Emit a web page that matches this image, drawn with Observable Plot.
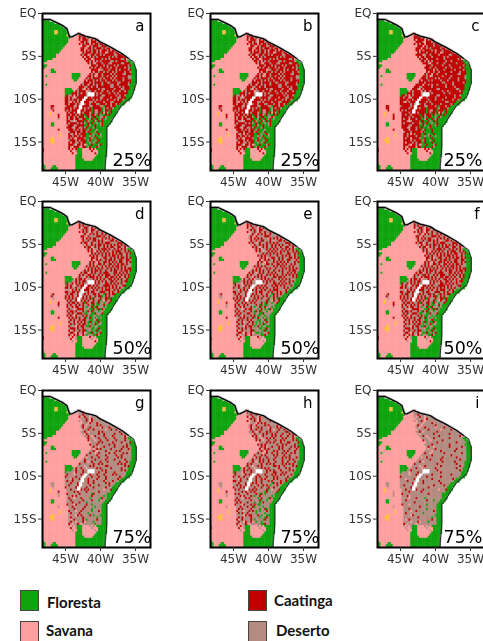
<!DOCTYPE html>
<html><head><meta charset="utf-8">
<script src="https://cdn.jsdelivr.net/npm/d3@7"></script>
<script src="https://cdn.jsdelivr.net/npm/@observablehq/plot@0.6"></script>
<style>
html,body{margin:0;padding:0;background:#fff;overflow:hidden;width:483px;height:641px}
#page{position:relative;width:483px;height:641px;overflow:hidden}
.panel{position:absolute}
.panel svg{display:block;overflow:visible;background:transparent;max-width:none!important}
.sw{position:absolute;width:17px;height:19px;border:1px solid #444}
.lb{position:absolute;font:bold 15px Lato,"Open Sans",sans-serif;color:#111;line-height:16px}
</style></head><body><div id="page"></div>
<script>
// Vegetation map, one row per 0.25 degree, north to south.
// Runs: F forest, S savanna, W white, Y yellow, "." outside (letter + count).
// Literal cells: digit = caatinga, a-j = forest, the character being the rank at
// which that cell has become desert; k savanna, m plain forest.
const rows = [
"","","",
"F4",
"F7",
"F10",
"F12",
"F14",
"F7 Y2 F5",
"F7 Y2 F6 .5 S2",
"F14 Y1 F1 .3 S2 738",
"F16 S5 629417",
"F15 S6 8k3952k716 4",
"F15 S6 k47280k963 15",
"F14 S7 7k5193k824 6037",
"F13 S9 k362k81749 02635",
"F12 S10 592k740318 6925147k",
"F11 S11 38k6192750 4k8361927 4",
"F10 S12 k714830962 5173k04862 93",
"F8 S14 6295k17403 8291657340 1786",
"F8 S15 4k83062719 5384716092 53847",
"F6 S18 7195k28364 0927158436 7219k",
"F3 S22 3806k41927 5836029174 6382mm",
"F1 S25 9271k53806 4912738560 2847 mm",
"F3 S24 k536184927 0638152794 3618 mm",
"F2 S25 8271940635 2815907364 182 mmm",
"S5 F2 S21 5937k20864 1739250684 917 mmm",
"S5 F3 S20 7k48193062 5827146930 582 mmm",
"S17 F5 S5 6182k74059 3716284950 1736 mmm",
"S2 F1 S14 F5 S4 3905k18627 4096281735 84920 mmm",
"S17 F4 S4 8261749305 1847260953 81642 1 mmm",
"S18 F2 S4 4k73915082 6319450728 3916475 mmm",
"S23 1846072953 7249016385 12749605 mmm",
"S2 F1 S19 6295k38170 4816593027 51946382 mmm",
"S21 9371056284 1839475602 738192846 mmm",
"S13 F4 S3 2740k61958 3625019847 6273510948 mmm",
"S13 F5 S1 815936k204 7183926405 8163729405 mmm",
"S13 F4 439172850 W4 6172938405 716248395 mmm",
"S13 F1 7205k8164930 W4 5283019746 38271640 mmm",
"S13 48162k07395 W2 58 1639402857 6183920475 mmm",
"S13 9527048136 W2 5 7391628054 9173526084 1 mmm",
"S13 340k81629 W2 6 5820719346 2867015394 mmm",
"S13 782395061 W2 1 4916830275 914628307 mmm",
"S5 36 S6 16485209 W2 4 7391b85460 2h938175 mmm",
"S5 52 S6 53927148 W2 7 0628d47395 h162930 mmm",
"S6 4 S6 8160739 W2 3 52846f9013 7e285g6 mmm",
"S4 Y1 S9 729406 W2 9 18392e5027 h4k61d9 mmm",
"S4 Y1 S4 8 S4 3615908247 f93b562h81 dg4e7 mmm",
"S9 5 S4 9274061835 2e7ai94hg0 c5bj mmm",
"S9 2 S4 6139k85207 4hd18gf6ea 3ic mmm",
"S14 4820k17596 d32jf7bg5i 8eh mmm",
"S5 F2 S7 7195360428 ag6e9hd1jc 4f mmm",
"S5 F2 S7 2748105963 fi3bhg7dea 5 mmm",
"S14 9361k84207 c8ehja4gdf mmm",
"S9 6 S5 5381627049 hb6fdi2ge mmm",
"S15 1749036285 a3gjec7hf mmm",
"S10 Y1 S4 8206k51937 dh5ibgf9c mmm",
"S10 Y1 S4 3917428056 ej1ga6hdb mmm",
"S5 Y2 S8 6042k93871 gf8cie3hj mmm",
"S4 Y3 S8 2857160394 db4hgaj7f mmm",
"S5 Y2 S8 7k39215086 ie2fch9gd mmm",
"S15 4860k7319k bhg5jdfa6 mmm",
"S15 91k5382k64 fc3ehi7bg mmm",
"5 S14 3k7k4 F3 S3 k6k4k F6",
"7 S14 k8kk2 F3 S5 3kkk F5",
"S15 kk4kk F3 S6 k5k F5",
"S19 F4 S8 F6",
"S19 F4 S7 F6",
"S19 F5 S5 F7",
"S19 F17",
"F1 S18 F17",
"F2 S4 F2 S11 F17",
"F2 S3 F4 S10 F17"
];
const northLon = [-48.29,-47.19,-46.48,-45.53,-44.81,-44.43,-44.10,-43.15,-42.19,-40.77,-40.05,-38.62,-36.96,-36.0];
const northLat = [-0.70,-0.70,-0.97,-1.36,-1.75,-2.72,-2.72,-2.33,-2.64,-2.92,-3.31,-3.89,-4.67,-5.25];
const eastLon = [-36.0,-35.29,-34.91,-34.91,-35.53,-36.96,-37.91,-38.62,-39.1,-39.1,-39.2,-39.34,-39.34];
const eastLat = [-5.25,-5.64,-6.61,-8.17,-9.72,-10.7,-11.86,-12.84,-13.22,-15.56,-16.53,-17.89,-18.28];
const lonTicks = [-45,-40,-35];
const latTicks = [0,-5,-10,-15];
const lonLabels = ["45W","40W","35W"];
const latLabels = ["EQ","5S","10S","15S"];
const panelLetters = ["a","b","c","d","e","f","g","h","i"];
const panelPercent = ["25%","25%","25%","50%","50%","50%","75%","75%","75%"];
const desertRank = [3,3,2,5,6,5,8,7,9];
const classColors = {Floresta:"#0fa30f",Savana:"#ff9f9f",Caatinga:"#c00000",Deserto:"#b38b80",Branco:"#ffffff",Amarelo:"#ffc040"};

const lon0 = -48.29, dLon = 0.25, dLat = 0.25, lap = 0.06;
const expanded = rows.map(r => r.split(" ").filter(Boolean).map(t => {
  const m = t.match(/^([FSWY.])(\d+)$/);
  return m ? m[1].repeat(+m[2]) : t;
}).join(""));
function classify(ch, rank){
  if (ch === "F" || ch === "m") return "Floresta";
  if (ch === "S" || ch === "k") return "Savana";
  if (ch === "W") return "Branco";
  if (ch === "Y") return "Amarelo";
  if (ch >= "0" && ch <= "9") return (+ch < rank) ? "Deserto" : "Caatinga";
  if (ch >= "a" && ch <= "j") return (ch.charCodeAt(0)-97 < rank) ? "Deserto" : "Floresta";
  return null;
}
function cells(rank){
  const out = [];
  expanded.forEach((r,j)=>{ [...r].forEach((ch,i)=>{
    const k = classify(ch, rank);
    if (k) out.push({x1:lon0+i*dLon,x2:lon0+(i+1)*dLon+lap,y1:-j*dLat,y2:-(j+1)*dLat-lap,k});
  });});
  return out;
}
const page = document.getElementById("page");
const W = 108, H = 157, mL = 42, mT = 13, mB = 30, mR = 20;
const colX = [0,168,335], rowY = [0,188,377];
panelLetters.forEach((letter,n)=>{
  const north = northLon.map((d,i)=>[d,northLat[i]]);
  const east = eastLon.map((d,i)=>[d,eastLat[i]]);
  const chart = Plot.plot({
    width: W+mL+mR, height: H+mT+mB,
    marginLeft: mL, marginRight: mR, marginTop: mT, marginBottom: mB,
    style:{background:"transparent",overflow:"visible"},
    x:{domain:[-48.29,-32.86],axis:null},
    y:{domain:[-18.32,0],axis:null},
    marks:[
      Plot.rect(cells(desertRank[n]),{x1:"x1",x2:"x2",y1:"y1",y2:"y2",fill:d=>classColors[d.k]}),
      Plot.line(north,{x:"0",y:"1",stroke:"#999",strokeWidth:2.6,strokeOpacity:0.6}),
      Plot.line(north,{x:"0",y:"1",stroke:"#000",strokeWidth:1.3}),
      Plot.line(east,{x:"0",y:"1",stroke:"#777",strokeWidth:1.6,strokeOpacity:0.5}),
      Plot.line(east,{x:"0",y:"1",stroke:"#000",strokeWidth:0.7}),
      Plot.frame({stroke:"#000",strokeWidth:2}),
      Plot.axisX(lonTicks,{tickFormat:(d,i)=>lonLabels[i],tickSize:4,tickPadding:3,fontSize:12,fontFamily:"DejaVu Sans",color:"#333",anchor:"bottom",label:null}),
      Plot.axisY(latTicks,{tickFormat:(d,i)=>latLabels[i],tickSize:4,tickPadding:2,fontSize:12,fontFamily:"DejaVu Sans",color:"#333",anchor:"left",label:null}),
      Plot.text([letter],{text:d=>d,frameAnchor:"top-right",dx:-6,dy:7,fontSize:15,fontFamily:"DejaVu Sans",fill:"#000"}),
      Plot.text([panelPercent[n]],{text:d=>d,frameAnchor:"bottom-right",dx:n%3===2?-3:1,dy:-5,fontSize:17.5,fontFamily:"DejaVu Sans",fill:"#000"})
    ]
  });
  const box = document.createElement("div");
  box.className = "panel";
  box.style.left = colX[n%3]+"px";
  box.style.top = rowY[Math.floor(n/3)]+"px";
  box.style.width = (W+mL+mR)+"px";
  box.style.filter = "blur(0.35px)";
  box.appendChild(chart);
  page.appendChild(box);
});
const swX = [20,20,248,248], swY = [590,621,590,621];
const lbX = [47,46,274,276], lbY = [594,622,592,622];
["Floresta","Savana","Caatinga","Deserto"].forEach((name,i)=>{
  const s = document.createElement("div"); s.className="sw";
  s.style.left=swX[i]+"px"; s.style.top=swY[i]+"px"; s.style.background=classColors[name];
  page.appendChild(s);
  const l = document.createElement("div"); l.className="lb";
  l.style.left=lbX[i]+"px"; l.style.top=lbY[i]+"px"; l.textContent=name;
  page.appendChild(l);
});
</script></body></html>
